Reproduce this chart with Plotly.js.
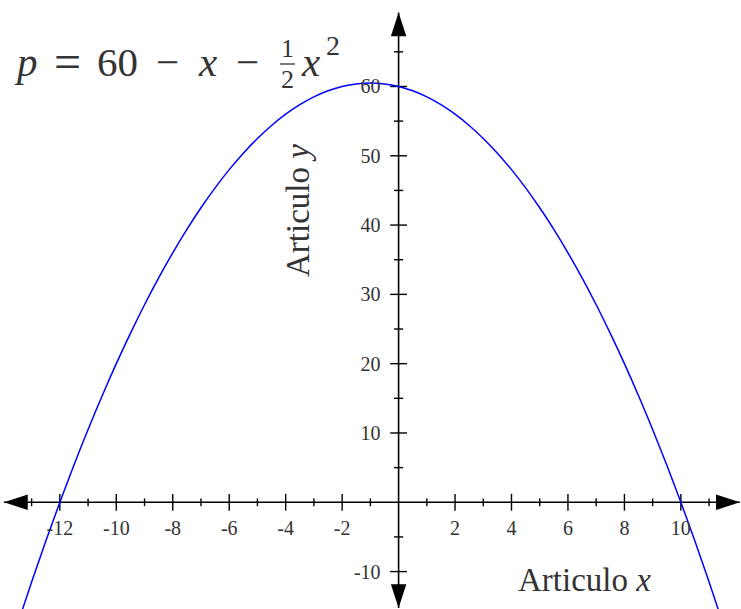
<!DOCTYPE html>
<html>
<head>
<meta charset="utf-8">
<script src="https://cdn.plot.ly/plotly-3.0.1.min.js"></script>
<style>
body { margin: 0; background: #fff; }
#graph { width: 741px; height: 609px; }
</style>
</head>
<body>
<div id="graph"></div>
<script>
var curve_x = [-14, -13.5, -13, -12.5, -12, -11.5, -11, -10.5, -10, -9.5, -9, -8.5, -8, -7.5, -7, -6.5,
    -6, -5.5, -5, -4.5, -4, -3.5, -3, -2.5, -2, -1.5, -1, -0.5, 0, 0.5, 1, 1.5, 2, 2.5, 3, 3.5,
    4, 4.5, 5, 5.5, 6, 6.5, 7, 7.5, 8, 8.5, 9, 9.5, 10, 10.5, 11, 11.5, 12];
var curve_y = [-24, -17.625, -11.5, -5.625, 0, 5.375, 10.5, 15.375, 20, 24.375, 28.5, 32.375, 36, 39.375, 42.5, 45.375,
    48, 50.375, 52.5, 54.375, 56, 57.375, 58.5, 59.375, 60, 60.375, 60.5, 60.375, 60, 59.375, 58.5, 57.375, 56, 54.375, 52.5, 50.375,
    48, 45.375, 42.5, 39.375, 36, 32.375, 28.5, 24.375, 20, 15.375, 10.5, 5.375, 0, -5.625, -11.5, -17.625, -24];

var x_tick_vals = [-12, -10, -8, -6, -4, -2, 2, 4, 6, 8, 10];
var x_tick_text = ["-12", "-10", "-8", "-6", "-4", "-2", "2", "4", "6", "8", "10"];
var x_minor = [-13, -11, -9, -7, -5, -3, -1, 1, 3, 5, 7, 9, 11];
var y_tick_vals = [-10, 10, 20, 30, 40, 50, 60];
var y_tick_text = ["-10", "10", "20", "30", "40", "50", "60"];
var y_minor = [-5, 5, 15, 25, 35, 45, 55, 65];

var x_range = [-14.12, 12.13];
var y_range = [-15.4, 72.48];
var x_ends = [-13.98, 12.09];
var y_ends = [-15.25, 70.68];

var W = 741, H = 609;
var serif = "Liberation Serif, serif";
var txt = "#333";

function zeros(a) { return a.map(function() { return 0; }); }

function init_plot() {
    var graph_div = document.getElementById("graph");

    var axis_lines = [
        {x: x_ends, y: [0, 0], mode: "lines", line: {color: "black", width: 1.6}},
        {x: [0, 0], y: y_ends, mode: "lines", line: {color: "black", width: 1.6}}
    ];

    function tick_trace(xs, ys, sym, size) {
        return {x: xs, y: ys, mode: "markers", cliponaxis: false,
            marker: {symbol: sym, size: size, line: {color: "black", width: 1.4}}};
    }

    var ticks = [
        tick_trace(x_tick_vals, zeros(x_tick_vals), "line-ns", 12),
        tick_trace(x_minor, zeros(x_minor), "line-ns", 5.5),
        tick_trace(zeros(y_tick_vals), y_tick_vals, "line-ew", 12),
        tick_trace(zeros(y_minor), y_minor, "line-ew", 6.5)
    ];

    var arrows = {
        x: [x_ends[0], x_ends[1], 0, 0],
        y: [0, 0, y_ends[0], y_ends[1]],
        mode: "markers", cliponaxis: false,
        marker: {symbol: "arrow", angle: [-90, 90, 180, 0], size: 25, color: "black", line: {width: 0}}
    };

    var curve = {
        x: curve_x, y: curve_y, mode: "lines",
        line: {color: "#0000ff", width: 1.5, shape: "spline", smoothing: 1}
    };

    var data = axis_lines.concat(ticks, [arrows, curve]);

    function ann(text, px, py, size, extra) {
        var a = {text: text, x: px / W, y: 1 - py / H, xref: "paper", yref: "paper",
            showarrow: false, xanchor: "center", yanchor: "middle",
            font: {family: serif, size: size, color: txt}};
        for (var k in extra) { a[k] = extra[k]; }
        return a;
    }

    var fy = 62;
    var annotations = [
        ann("<i>p</i>", 26, fy, 41),
        ann("=", 67, fy, 48),
        ann("60", 117, fy, 41),
        ann("\u2212", 167, fy, 41),
        ann("<i>x</i>", 207, fy, 41),
        ann("\u2212", 247, fy, 41),
        ann("1", 287, 64, 26, {yanchor: "bottom", borderpad: 0}),
        ann("2", 287, 64, 26, {yanchor: "top", borderpad: 0}),
        ann("<i>x</i>", 310, fy, 41),
        ann("2", 333, 45, 28),
        ann("Articulo <i>x</i>", 584, 580, 33),
        ann("Articulo <i>y</i>", 298, 211, 33, {textangle: -90})
    ];

    var layout = {
        width: W, height: H,
        margin: {l: 0, r: 0, t: 0, b: 0},
        paper_bgcolor: "white", plot_bgcolor: "white",
        showlegend: false,
        xaxis: {
            range: x_range, showgrid: false, zeroline: false, showline: false,
            anchor: "free", position: (0 - y_range[0]) / (y_range[1] - y_range[0]),
            tickvals: x_tick_vals, ticktext: x_tick_text, ticks: "",
            ticklabelstandoff: 12,
            tickfont: {family: serif, size: 20, color: txt}
        },
        yaxis: {
            range: y_range, showgrid: false, zeroline: false, showline: false,
            anchor: "free", position: (0 - x_range[0]) / (x_range[1] - x_range[0]),
            tickvals: y_tick_vals, ticktext: y_tick_text, ticks: "",
            ticklabelstandoff: 18,
            tickfont: {family: serif, size: 20, color: txt}
        },
        shapes: [{type: "line", xref: "paper", yref: "paper",
            x0: 280 / W, x1: 295 / W, y0: 1 - 64 / H, y1: 1 - 64 / H,
            line: {color: txt, width: 1.3}}],
        annotations: annotations
    };

    Plotly.newPlot(graph_div, data, layout, {staticPlot: true});
}

init_plot();
</script>
</body>
</html>
